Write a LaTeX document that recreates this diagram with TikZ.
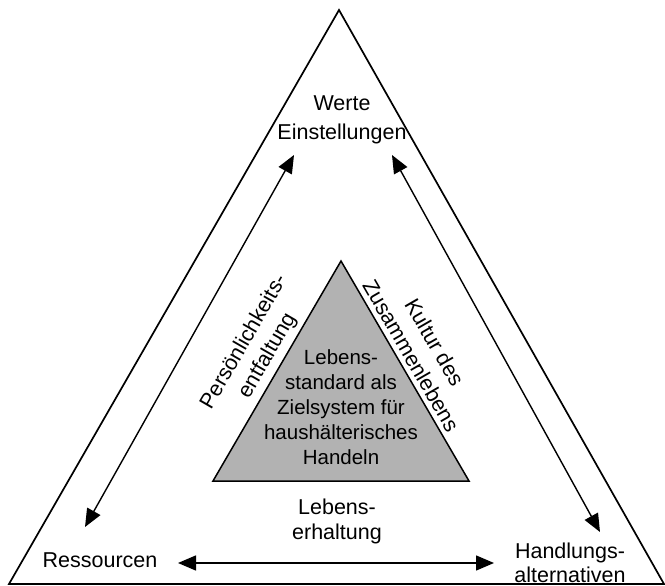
\documentclass[tikz,border=0pt]{standalone}
\usepackage{fontspec}
\setmainfont{Liberation Sans}
\usetikzlibrary{arrows.meta}
\begin{document}
\begin{tikzpicture}[x=1pt,y=-1pt,
  every node/.style={inner sep=0pt,align=center},
  lbl/.style={font=\fontsize{21.5}{25}\selectfont},
  inlbl/.style={font=\fontsize{20.5}{25}\selectfont},
  sidelbl/.style={font=\fontsize{21.5}{27}\selectfont},
  frame/.style={line width=1.7pt,line join=miter},
  core/.style={line width=1.5pt,fill=black!30,line join=miter},
  link/.style={line width=1.4pt,{Triangle[length=18pt,width=15pt]}-{Triangle[length=18pt,width=15pt]}}]
  \useasboundingbox (0,0) rectangle (665,586);
  % outer triangle
  \draw[frame] (339,10) -- (664,584) -- (9,584) -- cycle;
  % inner grey triangle
  \draw[core] (341,261) -- (469,481) -- (213,481) -- cycle;
  % corner labels
  \node[lbl,font=\fontsize{21.5}{29}\selectfont] (werte) at (342,120) {Werte\\Einstellungen};
  \node[lbl] (ress) at (100,560) {Ressourcen};
  \node[lbl,font=\fontsize{21.5}{24}\selectfont] (handl) at (570,563) {Handlungs-\\alternativen};
  % centre label
  \node[inlbl] (ziel) at (341,407) {Lebens-\\standard als\\Zielsystem für\\haushälterisches\\Handeln};
  % side labels
  \node[sidelbl,rotate=60] (pers) at (256,349) {Persönlichkeits-\\entfaltung};
  \node[sidelbl,rotate=-60] (kult) at (423,349) {Kultur des\\Zusammenlebens};
  \node[lbl] (erh) at (337,521) {Lebens-\\erhaltung};
  % arrow ends
  \coordinate (wl) at (294,155);
  \coordinate (wr) at (392,155);
  \coordinate (rl) at (85,527);
  \coordinate (hr) at (600,532);
  \coordinate (rb) at (178,563);
  \coordinate (hb) at (494,563);
  \draw[link] (wl) -- (rl);
  \draw[link] (wr) -- (hr);
  \draw[link] (rb) -- (hb);
\end{tikzpicture}
\end{document}
